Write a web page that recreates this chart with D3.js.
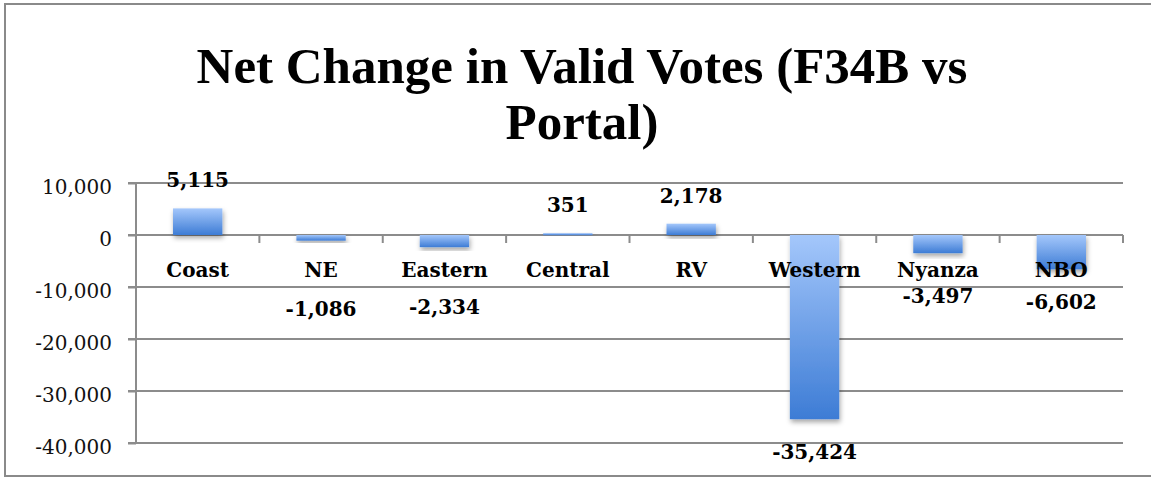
<!DOCTYPE html>
<html>
<head>
<meta charset="utf-8">
<script src="https://cdn.jsdelivr.net/npm/d3@7"></script>
<style>
  body { margin: 0; background: #fff; }
  svg { display: block; }
</style>
</head>
<body>
<script>
// Net change in valid votes, F34B vs portal, by region

var regions = ["Coast", "NE", "Eastern", "Central", "RV", "Western", "Nyanza", "NBO"];
var netChange = [5115, -1086, -2334, 351, 2178, -35424, -3497, -6602];
var yTicks = [10000, 0, -10000, -20000, -30000, -40000];
var titleLines = ["Net Change in Valid Votes (F34B vs", "Portal)"];

var width = 1151,
    height = 478,
    margin = {left: 136, right: 28, top: 183, bottom: 35};

var svg = d3.select("body")
  .append("svg")
    .attr("width", width)
    .attr("height", height);

var defs = svg.append("defs");

var grad = defs.append("linearGradient")
    .attr("id", "barGrad")
    .attr("x1", 0).attr("y1", 0)
    .attr("x2", 0).attr("y2", 1);
grad.append("stop").attr("offset", "0%").attr("stop-color", "#a4c7fb");
grad.append("stop").attr("offset", "100%").attr("stop-color", "#3d7cd5");

var shadow = defs.append("filter")
    .attr("id", "shadow")
    .attr("x", "-30%").attr("y", "-30%")
    .attr("width", "160%").attr("height", "160%");
shadow.append("feDropShadow")
    .attr("dx", 1).attr("dy", 3)
    .attr("stdDeviation", 2.5)
    .attr("flood-color", "#000")
    .attr("flood-opacity", 0.35);

// outer frame (left, top, bottom edges visible)
svg.append("path")
    .attr("d", "M1151,4 H5 V476 H1151")
    .attr("fill", "none")
    .attr("stroke", "#8a8a8a")
    .attr("stroke-width", 2);

// title
svg.append("g")
    .selectAll("text")
    .data(titleLines)
    .enter().append("text")
      .attr("x", 582)
      .attr("y", function(d, i) { return 83 + i * 56; })
      .attr("text-anchor", "middle")
      .attr("font-family", "'Liberation Serif', serif")
      .attr("font-weight", "bold")
      .attr("font-size", 51)
      .attr("fill", "#000")
      .text(function(d) { return d; });

var x = d3.scaleBand()
    .domain(regions)
    .range([margin.left, width - margin.right])
    .paddingInner(0.6)
    .paddingOuter(0.3);

var y = d3.scaleLinear()
    .domain([-40000, 10000])
    .range([443, margin.top]);

// plain hyphen for negatives, as in the original
var fmt = d3.formatLocale({decimal: ".", thousands: ",", grouping: [3], currency: ["", ""], minus: "-"}).format(",");

// gridlines
svg.append("g")
    .selectAll("line")
    .data(yTicks)
    .enter().append("line")
      .attr("x1", margin.left - 8)
      .attr("x2", width - margin.right)
      .attr("y1", function(d) { return y(d); })
      .attr("y2", function(d) { return y(d); })
      .attr("stroke", "#8c8c8c")
      .attr("stroke-width", 2);

// y axis
var yAxis = svg.append("g")
    .attr("transform", "translate(" + margin.left + ",0)")
    .call(d3.axisLeft(y)
      .tickValues(yTicks)
      .tickSize(8)
      .tickPadding(16)
      .tickFormat(fmt));
yAxis.select(".domain")
    .attr("stroke", "#8c8c8c")
    .attr("stroke-width", 2)
    .attr("d", "M0," + y(10000) + "V" + y(-40000));
yAxis.selectAll(".tick line").attr("stroke", "#8c8c8c").attr("stroke-width", 2);
yAxis.selectAll(".tick text")
    .attr("font-family", "'DejaVu Serif', serif")
    .attr("font-size", 20)
    .attr("fill", "#111")
    .attr("dy", 10);

// category ticks along zero line
var bounds = regions.map(function(d) { return x(d) - x.step() * x.paddingInner() / 2; });
bounds.push(width - margin.right);
svg.append("g")
    .selectAll("line")
    .data(bounds.slice(1))
    .enter().append("line")
      .attr("x1", function(d) { return d; })
      .attr("x2", function(d) { return d; })
      .attr("y1", y(0))
      .attr("y2", y(0) + 8)
      .attr("stroke", "#8c8c8c")
      .attr("stroke-width", 2);

// bars
svg.append("g")
    .selectAll("rect")
    .data(netChange)
    .enter().append("rect")
      .attr("x", function(d, i) { return x(regions[i]); })
      .attr("width", x.bandwidth())
      .attr("y", function(d) { return y(Math.max(d, 0)); })
      .attr("height", function(d) { return Math.max(Math.abs(y(d) - y(0)), 2); })
      .attr("fill", "url(#barGrad)")
      .attr("filter", "url(#shadow)");

// category labels
svg.append("g")
    .selectAll("text")
    .data(regions)
    .enter().append("text")
      .attr("x", function(d) { return x(d) + x.bandwidth() / 2; })
      .attr("y", y(0) + 42)
      .attr("text-anchor", "middle")
      .attr("font-family", "'DejaVu Serif', serif")
      .attr("font-weight", "bold")
      .attr("font-size", 20)
      .attr("fill", "#000")
      .text(function(d) { return d; });

// value labels; negatives sit below bar and clear of the category labels
var labelNudge = {NE: 13, Eastern: 11};
svg.append("g")
    .selectAll("text")
    .data(netChange)
    .enter().append("text")
      .attr("x", function(d, i) { return x(regions[i]) + x.bandwidth() / 2; })
      .attr("y", function(d, i) {
        if (d >= 0) return y(d) - 21;
        return Math.max(y(d) + 40, y(0) + 68) + (labelNudge[regions[i]] || 0);
      })
      .attr("text-anchor", "middle")
      .attr("font-family", "'DejaVu Serif', serif")
      .attr("font-weight", "bold")
      .attr("font-size", 20)
      .attr("fill", "#000")
      .text(function(d) { return fmt(d); });
</script>
</body>
</html>
